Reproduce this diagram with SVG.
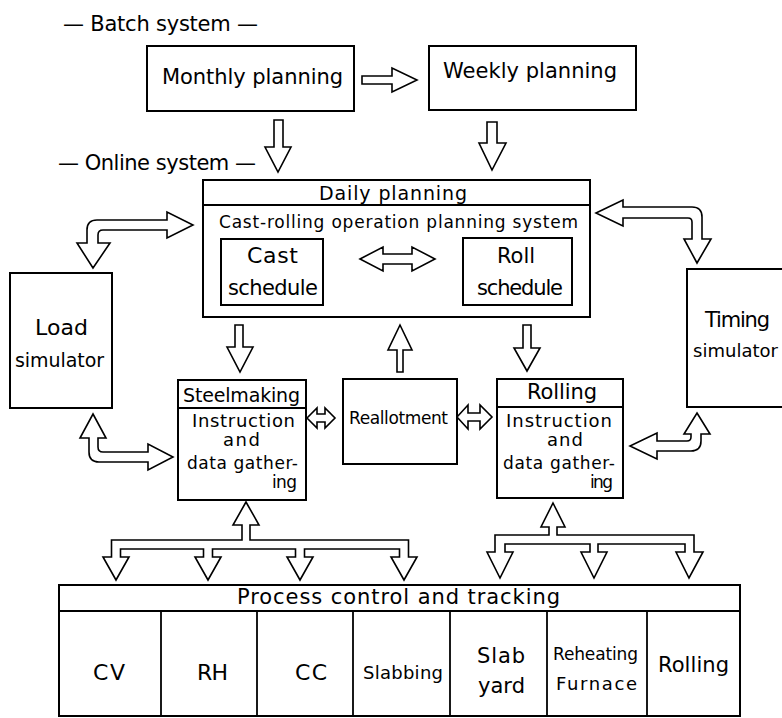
<svg xmlns="http://www.w3.org/2000/svg" width="782" height="718" viewBox="0 0 782 718">
<style>
.box{fill:#fff;stroke:#000;stroke-width:2}
.ln{fill:none;stroke:#000;stroke-width:1.8}
.arr{fill:#fff;stroke:#000;stroke-width:1.6;stroke-linejoin:miter}
text{font-family:"DejaVu Sans","Liberation Sans",sans-serif;fill:#000}
</style>
<rect width="782" height="718" fill="#fff"/>
<g id="labels">
<text x="63" y="31" font-size="21" textLength="195">— Batch system —</text>
<text x="58" y="170" font-size="21" textLength="198">— Online system —</text>
</g>
<g id="monthly">
<rect class="box" x="147" y="46" width="207" height="65"/>
<text x="162" y="84" font-size="21" textLength="181">Monthly planning</text>
</g>
<g id="weekly">
<rect class="box" x="429" y="46" width="207" height="64"/>
<text x="443" y="78" font-size="21" textLength="174">Weekly planning</text>
</g>
<g id="daily">
<rect class="box" x="203" y="180" width="387" height="137"/>
<line class="ln" x1="203" y1="205" x2="590" y2="205"/>
<text x="319" y="200" font-size="19" textLength="148">Daily planning</text>
<text x="219" y="228" font-size="17" textLength="359">Cast-rolling operation planning system</text>
</g>
<g id="cast">
<rect class="box" x="221" y="239" width="102" height="66"/>
<text x="247" y="263" font-size="22" textLength="51">Cast</text>
<text x="228" y="295" font-size="21" textLength="90">schedule</text>
</g>
<g id="roll">
<rect class="box" x="463" y="238" width="109" height="67"/>
<text x="497" y="263" font-size="21" textLength="38">Roll</text>
<text x="477" y="295" font-size="21" textLength="86">schedule</text>
</g>
<g id="load">
<rect class="box" x="10" y="273" width="102" height="135"/>
<text x="35" y="335" font-size="22" textLength="53">Load</text>
<text x="15" y="367" font-size="19" textLength="89">simulator</text>
</g>
<g id="timing">
<rect class="box" x="687" y="269" width="110" height="138"/>
<text x="705" y="327" font-size="21" textLength="65">Timing</text>
<text x="693" y="357" font-size="18" textLength="85">simulator</text>
</g>
<g id="steelmaking">
<rect class="box" x="178" y="380" width="128" height="120"/>
<line class="ln" x1="178" y1="408" x2="306" y2="408"/>
<text x="183" y="402" font-size="19" textLength="117">Steelmaking</text>
<text x="192" y="427" font-size="18" textLength="103">Instruction</text>
<text x="223" y="446" font-size="18" textLength="37">and</text>
<text x="187" y="469" font-size="17" textLength="111">data gather-</text>
<text x="272" y="488" font-size="17" textLength="25">ing</text>
</g>
<g id="reallotment">
<rect class="box" x="343" y="379" width="114" height="85"/>
<text x="349" y="424" font-size="17" textLength="99">Reallotment</text>
</g>
<g id="rolling">
<rect class="box" x="497" y="379" width="126" height="119"/>
<line class="ln" x1="497" y1="407" x2="623" y2="407"/>
<text x="527" y="399" font-size="21" textLength="70">Rolling</text>
<text x="506" y="427" font-size="18" textLength="106">Instruction</text>
<text x="547" y="446" font-size="18" textLength="36">and</text>
<text x="503" y="469" font-size="17" textLength="112">data gather-</text>
<text x="590" y="488" font-size="17" textLength="23">ing</text>
</g>
<g id="process">
<rect class="box" x="59" y="585" width="681" height="131"/>
<line class="ln" x1="59" y1="611" x2="740" y2="611"/>
<line class="ln" x1="161" y1="611" x2="161" y2="716"/>
<line class="ln" x1="257" y1="611" x2="257" y2="716"/>
<line class="ln" x1="353" y1="611" x2="353" y2="716"/>
<line class="ln" x1="450" y1="611" x2="450" y2="716"/>
<line class="ln" x1="547" y1="611" x2="547" y2="716"/>
<line class="ln" x1="647" y1="611" x2="647" y2="716"/>
<text x="237" y="604" font-size="21" textLength="323">Process control and tracking</text>
<text x="93" y="680" font-size="22" textLength="32">CV</text>
<text x="197" y="680" font-size="22" textLength="31">RH</text>
<text x="295" y="680" font-size="22" textLength="32">CC</text>
<text x="363" y="679" font-size="18" textLength="80">Slabbing</text>
<text x="477" y="663" font-size="21" textLength="48">Slab</text>
<text x="478" y="693" font-size="21" textLength="47">yard</text>
<text x="553" y="660" font-size="17" textLength="85">Reheating</text>
<text x="556" y="690" font-size="18" textLength="81">Furnace</text>
<text x="658" y="672" font-size="21" textLength="71">Rolling</text>
</g>
<g id="connectors">
<path class="arr" d="M362 76 L392 76 L392 68 L417 80 L392 92 L392 84 L362 84 Z"/>
<path class="arr" d="M274 120 L283 120 L283 147 L291 147 L278 172 L265 147 L274 147 Z"/>
<path class="arr" d="M487 122 L497 122 L497 143 L506 143 L492 170 L479 143 L487 143 Z"/>
<path class="arr" d="M360 259 L383 247 L383 254 L412 254 L412 247 L435 259 L412 271 L412 264 L383 264 L383 271 Z"/>
<path class="arr" d="M87 243 L87 230 Q87 220 97 220 L167 220 L167 212 L193 225 L167 238 L167 230 L103 230 Q98 230 98 235 L98 243 L110 243 L93 268 L77 243 Z"/>
<path class="arr" d="M596 213 L623 200 L623 207 L692 207 Q702 207 702 217 L702 239 L711 239 L697 263 L684 239 L692 239 L692 222 Q692 218 688 218 L623 218 L623 226 Z"/>
<path class="arr" d="M93 414 L106 438 L98 438 L98 447 Q98 452 103 452 L148 452 L148 444 L173 457 L148 470 L148 462 L99 462 Q89 462 89 452 L89 438 L80 438 Z"/>
<path class="arr" d="M697 413 L710 434 L701 434 L701 441 Q701 451 691 451 L657 451 L657 459 L630 446 L657 433 L657 441 L687 441 Q691 441 691 437 L691 434 L684 434 Z"/>
<path class="arr" d="M235 325 L243 325 L243 347 L253 347 L240 372 L227 347 L235 347 Z"/>
<path class="arr" d="M400 325 L412 350 L403 350 L403 372 L397 372 L397 350 L388 350 Z"/>
<path class="arr" d="M523 325 L531 325 L531 348 L540 348 L527 371 L514 348 L523 348 Z"/>
<path class="arr" d="M307 418 L317 408 L317 414 L325 414 L325 408 L335 418 L325 428 L325 422 L317 422 L317 428 Z"/>
<path class="arr" d="M457 417 L468 405 L468 413 L480 413 L480 405 L492 417 L480 429 L480 421 L468 421 L468 429 Z"/>
<path class="arr" d="M246 502 L259 525 L250 525 L250 540 L408.5 540 L408.5 557 L417 557 L404 580 L391 557 L399.5 557 L399.5 549 L304.5 549 L304.5 557 L313 557 L300 580 L287 557 L295.5 557 L295.5 549 L212.5 549 L212.5 557 L221 557 L208 580 L195 557 L203.5 557 L203.5 549 L120.5 549 L120.5 557 L129 557 L116 580 L103 557 L111.5 557 L111.5 540 L242 540 L242 525 L233 525 Z"/>
<path class="arr" d="M553 503 L565 527 L557 527 L557 535 L694 535 L694 552 L703 552 L689 578 L676 552 L685 552 L685 544 L598 544 L598 552 L607 552 L594 578 L581 552 L590 552 L590 544 L505 544 L505 552 L513 552 L500 578 L487 552 L495 552 L495 535 L549 535 L549 527 L541 527 Z"/>
</g>
</svg>
